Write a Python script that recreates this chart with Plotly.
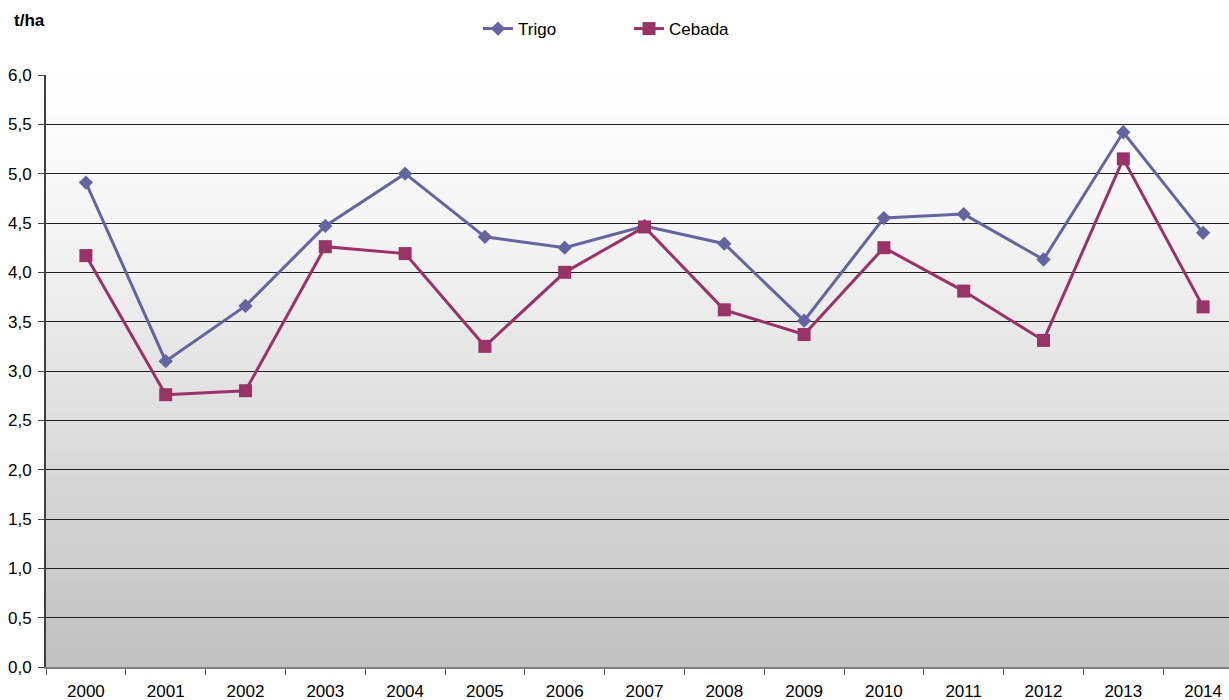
import plotly.graph_objects as go

years = list(range(2000, 2015))
trigo = [4.91, 3.10, 3.66, 4.47, 5.00, 4.36, 4.25, 4.47, 4.29, 3.51, 4.55, 4.59, 4.13, 5.42, 4.40]
cebada = [4.17, 2.76, 2.80, 4.26, 4.19, 3.25, 4.00, 4.46, 3.62, 3.37, 4.25, 3.81, 3.31, 5.15, 3.65]
y_ticks = [0.0, 0.5, 1.0, 1.5, 2.0, 2.5, 3.0, 3.5, 4.0, 4.5, 5.0, 5.5, 6.0]
y_ticktext = [f"{v:.1f}".replace(".", ",") for v in y_ticks]
year_labels = [str(y) for y in years]

W, H = 1229, 700
ML, MT = 46, 75
MB = H - 667
plot_w = W - ML
plot_h = H - MT - MB
cat_px = 79.8
x_left = years[0] - 0.5
x_right = x_left + plot_w / cat_px

# vertical background gradient (value -> gray level)
stops = [(0.0, 192), (1.5, 210), (3.0, 228), (4.5, 245), (6.0, 254)]

def gray_at(v):
    for (a, ga), (b, gb) in zip(stops[:-1], stops[1:]):
        if a <= v <= b:
            t = (v - a) / (b - a)
            return round(ga + (gb - ga) * t)
    return stops[-1][1]

shapes = []
n = 120
ymax = y_ticks[-1]
step = ymax / n
for i in range(n):
    y0 = step * i
    y1 = min(ymax, step * (i + 1) + step * 0.6)
    g = gray_at(y0 + step / 2)
    shapes.append(dict(type="rect", xref="paper", yref="y", x0=0, x1=1, y0=y0, y1=y1,
                       fillcolor=f"rgb({g},{g},{g})", line=dict(width=0), layer="below"))

fig = go.Figure()
fig.add_trace(go.Scatter(x=years, y=trigo, name="Trigo", mode="lines+markers",
                         line=dict(color="#64649f", width=3),
                         marker=dict(symbol="diamond", size=11, color="#64649f")))
fig.add_trace(go.Scatter(x=years, y=cebada, name="Cebada", mode="lines+markers",
                         line=dict(color="#993366", width=3),
                         marker=dict(symbol="square", size=13, color="#993366")))

fig.update_layout(
    width=W, height=H,
    margin=dict(l=ML, r=0, t=MT, b=MB),
    paper_bgcolor="white",
    plot_bgcolor="rgba(0,0,0,0)",
    font=dict(family="Liberation Sans, Arial, sans-serif", size=16, color="black"),
    shapes=shapes,
    showlegend=True,
    legend=dict(orientation="h", xref="container", yref="container",
                x=478 / W, y=1 - 29 / H, xanchor="left", yanchor="middle",
                font=dict(size=17), entrywidth=106, entrywidthmode="pixels",
                bgcolor="rgba(0,0,0,0)"),
    annotations=[dict(text="<b>t/ha</b>", xref="paper", yref="paper",
                      x=(12 - ML) / plot_w,
                      y=1 + (MT - 21) / plot_h, xanchor="left", yanchor="middle",
                      showarrow=False, font=dict(size=17))],
)

fig.update_xaxes(range=[x_left, x_right], tickvals=years, ticktext=year_labels,
                 ticks="", showgrid=False, zeroline=False,
                 showline=True, linecolor="#808080", linewidth=1.5,
                 tickfont=dict(size=17), ticklabelstandoff=8,
                 minor=dict(tick0=x_left, dtick=1, ticks="outside", ticklen=6,
                            tickcolor="#555555", tickwidth=1, showgrid=False))
fig.update_yaxes(range=[0, 6], tickvals=y_ticks, ticktext=y_ticktext,
                 ticks="outside", ticklen=6, tickcolor="#444444",
                 showgrid=True, gridcolor="#1e1e1e", gridwidth=1.3, zeroline=False,
                 showline=True, linecolor="#404040", linewidth=2,
                 tickfont=dict(size=17), ticklabelstandoff=3)

fig.write_html("out.html", config={"displayModeBar": False},
               post_script="document.body.style.margin='0px';document.body.style.overflow='hidden';")
